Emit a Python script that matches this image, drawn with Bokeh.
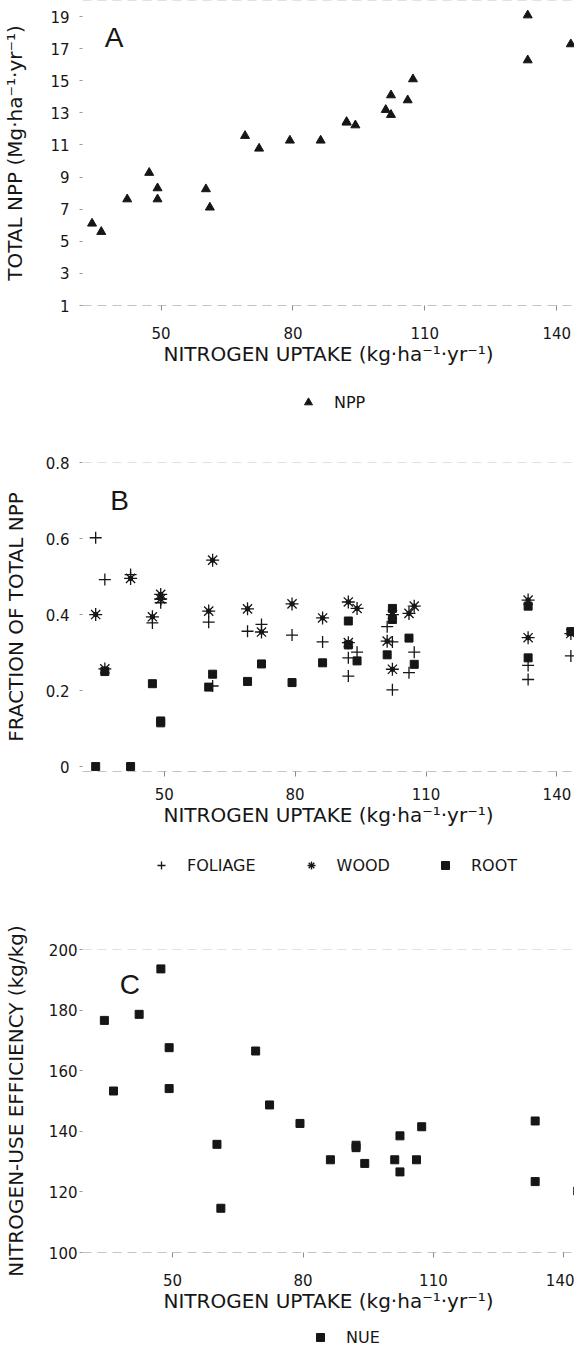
from bokeh.plotting import figure
from bokeh.layouts import column
from bokeh.models import FixedTicker, Legend, LegendItem, Label, Span, Range1d
from bokeh.embed import file_html
from bokeh.resources import INLINE

# ---------------- data (one entry per stand) ----------------
n_uptake = [34.3, 36.4, 42.3, 47.3, 49.2, 49.2, 60.2, 61.1, 69.1, 72.3, 79.3, 86.3,
            92.2, 92.2, 94.2, 101.1, 102.3, 102.3, 106.1, 107.3, 133.4, 133.4, 143.2]
npp = [6.11, 5.59, 7.62, 9.27, 8.31, 7.62, 8.25, 7.11, 11.57, 10.78, 11.28, 11.28,
       12.44, 12.40, 12.23, 13.19, 14.10, 12.88, 13.79, 15.10, 19.08, 16.28, 17.28]
foliage = [0.602, 0.492, 0.505, 0.378, 0.431, 0.440, 0.380, 0.212, 0.356, 0.374, 0.346, 0.328,
           0.238, 0.286, 0.301, 0.368, 0.202, 0.328, 0.247, 0.301, 0.266, 0.229, 0.291]
wood = [0.400, 0.257, 0.495, 0.394, 0.453, 0.441, 0.409, 0.543, 0.415, 0.354, 0.428, 0.391,
        0.433, 0.326, 0.416, 0.330, 0.400, 0.256, 0.403, 0.422, 0.438, 0.339, 0.350]
root = [0.000, 0.250, 0.000, 0.218, 0.115, 0.120, 0.209, 0.243, 0.224, 0.270, 0.221, 0.273,
        0.320, 0.383, 0.278, 0.294, 0.387, 0.416, 0.338, 0.269, 0.286, 0.422, 0.355]
nue = [176.6, 153.3, 178.6, 193.6, 167.6, 154.1, 135.7, 114.6, 166.5, 148.7, 142.6, 130.6,
       135.4, 134.6, 129.4, 130.6, 138.5, 126.6, 130.6, 141.5, 143.4, 123.4, 120.3]

x_ticks = [50, 80, 110, 140]
npp_ticks = [1, 3, 5, 7, 9, 11, 13, 15, 17, 19]
frac_ticks = [0, 0.2, 0.4, 0.6, 0.8]
frac_tick_labels = ["0", "0.2", "0.4", "0.6", "0.8"]
nue_ticks = [100, 120, 140, 160, 180, 200]

X_LABEL = "NITROGEN UPTAKE (kg·ha⁻¹·yr⁻¹)"
FONT = "DejaVu Sans"
LETTER_FONT = "Liberation Sans"
INK = "#161616"
FAINT = "#c4c4c4"
NAN = float("nan")
LEFT = 76  # common frame offset (the column aligns all frames)

STYLE_TRI = dict(marker="triangle", size=9, fill_color=INK, line_color=INK)
STYLE_CROSS = dict(marker="cross", size=12, line_color=INK, line_width=1.3)
STYLE_STAR = dict(marker="asterisk", size=13, line_color=INK, line_width=1.3)
STYLE_SQ = dict(marker="square", size=8, fill_color=INK, line_color=INK)


def panel(height, xr, yr, top, bottom, y_label, y_ticks, y_als, y_standoff, x_standoff):
    p = figure(width=574, height=height,
               x_range=Range1d(*xr), y_range=Range1d(*yr),
               output_backend="svg", toolbar_location=None,
               min_border_left=LEFT, min_border_right=0,
               min_border_top=top, min_border_bottom=bottom)
    p.outline_line_color = None
    p.xgrid.visible = False
    p.ygrid.visible = False
    p.background_fill_color = "white"
    p.border_fill_color = "white"

    xa = p.xaxis[0]
    xa.ticker = FixedTicker(ticks=x_ticks)
    xa.axis_label = X_LABEL
    xa.axis_label_text_font = FONT
    xa.axis_label_text_font_size = "20px"
    xa.axis_label_text_font_style = "normal"
    xa.axis_label_text_color = INK
    xa.axis_label_standoff = 0
    xa.major_label_text_font = FONT
    xa.major_label_text_font_size = "15px"
    xa.major_label_text_color = INK
    xa.major_label_standoff = x_standoff
    xa.major_tick_out = 5
    xa.major_tick_in = 0
    xa.major_tick_line_color = "#8a8a8a"
    xa.minor_tick_line_color = None
    xa.axis_line_color = FAINT
    xa.axis_line_dash = "9 6"
    xa.axis_line_width = 1

    ya = p.yaxis[0]
    ya.ticker = FixedTicker(ticks=y_ticks)
    ya.axis_label = y_label
    ya.axis_label_text_font = FONT
    ya.axis_label_text_font_size = "20px"
    ya.axis_label_text_font_style = "normal"
    ya.axis_label_text_color = INK
    ya.axis_label_standoff = y_als
    ya.major_label_text_font = FONT
    ya.major_label_text_font_size = "15px"
    ya.major_label_text_color = INK
    ya.major_label_standoff = y_standoff
    ya.major_tick_out = 3
    ya.major_tick_in = 0
    ya.major_tick_line_color = "#9a9a9a"
    ya.minor_tick_line_color = None
    ya.axis_line_color = None

    p.add_layout(Span(location=yr[1], dimension="width", line_color=FAINT,
                      line_dash="9 6", line_width=1))
    return p


def legend_strip(height, entries, loc):
    """A strip without axes carrying only a legend (keys come from renderers with no drawable data)."""
    s = figure(width=574, height=height, x_range=Range1d(0, 1), y_range=Range1d(0, 1),
               output_backend="svg", toolbar_location=None,
               x_axis_location=None, y_axis_location=None,
               min_border_left=LEFT, min_border_right=0, min_border_top=0, min_border_bottom=0)
    s.outline_line_color = None
    s.xgrid.visible = False
    s.ygrid.visible = False
    s.background_fill_color = "white"
    s.border_fill_color = "white"
    items = []
    for label, style in entries:
        r = s.scatter(x=[NAN], y=[NAN], **style)
        items.append(LegendItem(label=label, renderers=[r]))
    lg = Legend(items=items, location=loc, orientation="horizontal",
                glyph_width=24, glyph_height=20, label_standoff=14, spacing=43,
                padding=0, margin=0, border_line_color=None, background_fill_alpha=0,
                label_text_font=FONT, label_text_font_size="16px", label_text_color=INK)
    s.add_layout(lg, "center")
    return s


def letter(p, x, y, t):
    p.add_layout(Label(x=x, y=y, text=t, text_font=LETTER_FONT, text_font_size="28px",
                       text_color=INK, text_align="center", text_baseline="middle"))


# ---------------- panel A ----------------
pa = panel(372, (32.13, 144.04), (1, 20), 0, 67,
           "TOTAL NPP (Mg·ha⁻¹·yr⁻¹)", npp_ticks, 20, 10, 16)
pa.scatter(n_uptake, npp, **STYLE_TRI)
letter(pa, 39.3, 17.7, "A")
la = legend_strip(60, [("NPP", STYLE_TRI)], (214, 20))

# ---------------- panel B ----------------
pb = panel(402, (31.28, 144.03), (-0.013, 0.8), 30, 63,
           "FRACTION OF TOTAL NPP", frac_ticks, 15, 10, 11)
pb.yaxis[0].major_label_overrides = dict(zip(frac_ticks, frac_tick_labels))
pb.scatter(n_uptake, foliage, **STYLE_CROSS)
pb.scatter(n_uptake, wood, **STYLE_STAR)
pb.scatter(n_uptake, wood, marker="circle", size=4.5, fill_color=INK, line_color=INK)
pb.scatter(n_uptake, root, **STYLE_SQ)
letter(pb, 39.77, 0.70, "B")
lb = legend_strip(63, [("FOLIAGE", STYLE_CROSS), ("WOOD", STYLE_STAR), ("ROOT", STYLE_SQ)], (67, 22))

# ---------------- panel C ----------------
pc = panel(422, (29.27, 142.45), (100, 200), 52, 67,
           "NITROGEN-USE EFFICIENCY (kg/kg)", nue_ticks, 18, 2, 16)
pc.scatter(n_uptake, nue, **STYLE_SQ)
letter(pc, 40.18, 188.4, "C")
lc = legend_strip(30, [("NUE", STYLE_SQ)], (226, 2))

layout = column(pa, la, pb, lb, pc, lc, spacing=0)
open("out.html", "w").write(file_html(layout, INLINE))
